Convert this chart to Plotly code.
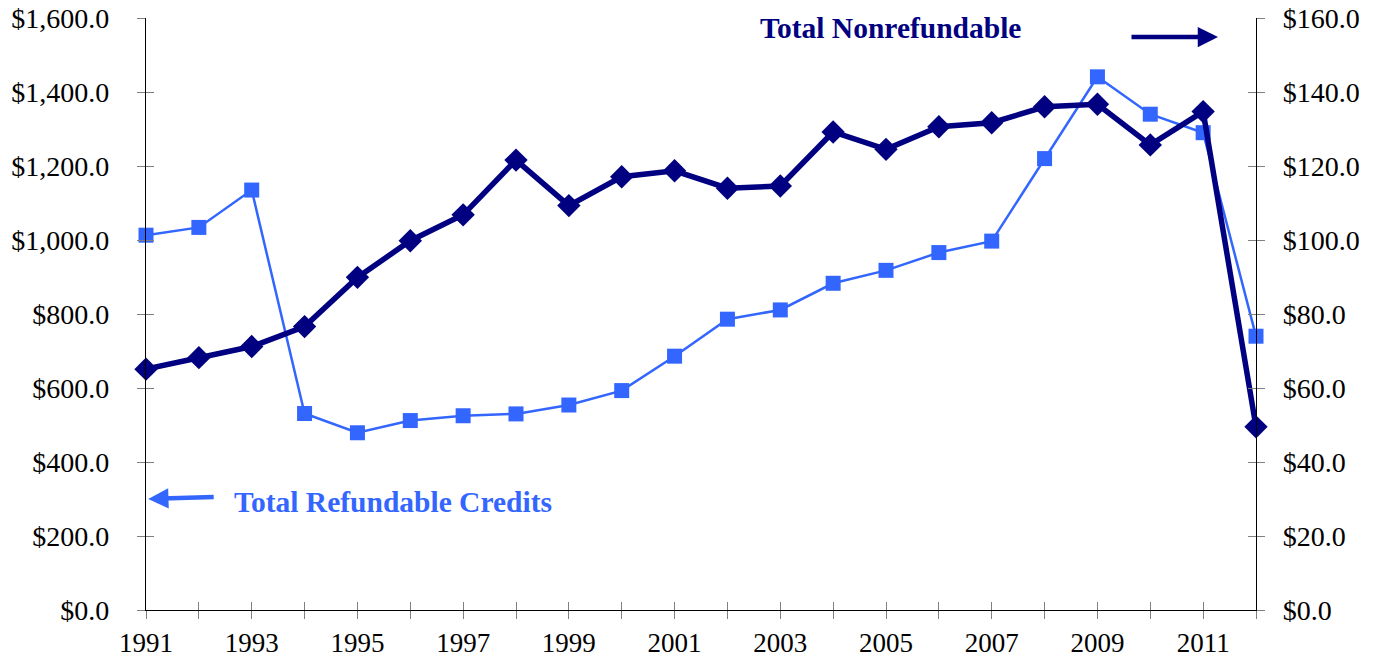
import plotly.graph_objects as go

years = list(range(1991, 2013))
refundable = [1013, 1034, 1135, 531, 479, 512, 525, 530, 554, 593, 686, 786,
              811, 883, 918, 966, 997, 1220, 1441, 1340, 1290, 740]
nonrefundable = [65.1, 68.2, 71.2, 76.6, 89.9, 99.8, 106.8, 121.6, 109.3, 117.1, 118.7, 114.0,
                 114.6, 129.2, 124.5, 130.6, 131.7, 136.0, 136.7, 125.7, 134.7, 49.5]
tick_years = years
tick_text = [str(y) if (y - 1991) % 2 == 0 else "" for y in years]

LIGHT = "#3366FF"
NAVY = "#000080"
FONT = "Liberation Serif"

fig = go.Figure()
fig.add_trace(go.Scatter(
    x=years, y=refundable, mode="lines+markers", name="Total Refundable Credits",
    line=dict(color=LIGHT, width=2.5),
    marker=dict(symbol="square", size=15, color=LIGHT),
    cliponaxis=False, yaxis="y"))
fig.add_trace(go.Scatter(
    x=years, y=nonrefundable, mode="lines+markers", name="Total Nonrefundable",
    line=dict(color=NAVY, width=5.5),
    marker=dict(symbol="diamond", size=18, color=NAVY),
    cliponaxis=False, yaxis="y2"))
# empty helper traces so the inside-tick overlay axes get drawn
fig.add_trace(go.Scatter(x=[None], y=[None], xaxis="x2", yaxis="y3",
                         showlegend=False, hoverinfo="skip"))
fig.add_trace(go.Scatter(x=[None], y=[None], xaxis="x2", yaxis="y4",
                         showlegend=False, hoverinfo="skip"))

yfont = dict(family=FONT, size=28, color="black")
xfont = dict(family=FONT, size=27, color="black")
common = dict(showgrid=False, zeroline=False, showline=True, linecolor="black", linewidth=1.3,
              ticks="outside", ticklen=8, tickcolor="#808080", tickwidth=1.3, automargin=False,
              ticklabeloverflow="allow")
inner = dict(showgrid=False, zeroline=False, showline=False, showticklabels=False,
             ticks="inside", ticklen=8, tickcolor="#808080", tickwidth=1.3, automargin=False)
fig.update_layout(
    width=1380, height=657,
    margin=dict(l=146, r=124, t=18, b=47),
    plot_bgcolor="white", paper_bgcolor="white",
    showlegend=False,
    xaxis=dict(range=[1991, 2012], tickvals=tick_years, ticktext=tick_text,
               tickfont=xfont, ticklabelstandoff=0, **common),
    yaxis=dict(range=[0, 1600], dtick=200, tickformat="$,.1f",
               tickfont=yfont, ticklabelstandoff=22, **common),
    yaxis2=dict(range=[0, 160], dtick=20, tickformat="$,.1f", overlaying="y", side="right",
                tickfont=yfont, ticklabelstandoff=12, **common),
    xaxis2=dict(range=[1991, 2012], tickvals=tick_years, overlaying="x", anchor="y",
                side="bottom", **inner),
    yaxis3=dict(range=[0, 1600], dtick=200, overlaying="y", side="left", anchor="x", **inner),
    yaxis4=dict(range=[0, 160], dtick=20, overlaying="y", side="right", anchor="x", **inner),
)

fig.add_annotation(xref="paper", yref="paper", x=(890 - 146) / 1110, y=(610 - 28) / 592,
                   xanchor="center", yanchor="middle",
                   text="<b>Total Nonrefundable</b>", showarrow=False,
                   font=dict(family=FONT, size=29.5, color=NAVY))
fig.add_annotation(xref="paper", yref="paper", x=(232 - 146) / 1110, y=(610 - 502) / 592,
                   xanchor="left", yanchor="middle",
                   text="<b>Total Refundable Credits</b>", showarrow=False,
                   font=dict(family=FONT, size=29.5, color=LIGHT))
# arrows
fig.add_annotation(xref="paper", yref="paper", x=0.002, y=(610 - 499) / 592,
                   ax=67, ay=-2, axref="pixel", ayref="pixel", text="", showarrow=True,
                   arrowhead=2, arrowsize=0.9, arrowwidth=4.5, arrowcolor=LIGHT)
fig.add_annotation(xref="paper", yref="paper", x=(1218 - 146) / 1110, y=(610 - 37) / 592,
                   ax=-88, ay=0, axref="pixel", ayref="pixel", text="", showarrow=True,
                   arrowhead=2, arrowsize=0.9, arrowwidth=4.5, arrowcolor=NAVY)

fig.write_html("out.html", config={"displayModeBar": False},
               post_script="document.body.style.margin='0';document.body.style.overflow='hidden';")
